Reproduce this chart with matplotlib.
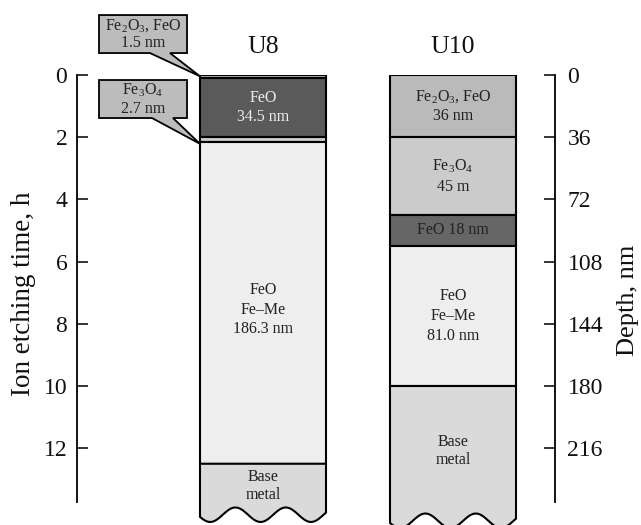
import numpy as np
import matplotlib
matplotlib.use("Agg")
import matplotlib.pyplot as plt
from matplotlib.patches import Rectangle, Polygon

plt.rcParams['font.family'] = ['Liberation Serif', 'DejaVu Serif']
plt.rcParams['mathtext.fontset'] = 'custom'
plt.rcParams['mathtext.rm'] = 'Liberation Serif'
plt.rcParams['mathtext.it'] = 'Liberation Serif:italic'

# --- data -------------------------------------------------------------
samples = ["U8", "U10"]

u8_phases = ["Fe$_2$O$_3$, FeO", "FeO", "Fe$_3$O$_4$", "FeO\nFe–Me"]
u8_thickness_nm = [1.5, 34.5, 2.7, 186.3]
u8_value_fmt = ["{:.1f} nm", "{:.1f} nm", "{:.1f} nm", "{:.1f} nm"]

u10_phases = ["Fe$_2$O$_3$, FeO", "Fe$_3$O$_4$", "FeO", "FeO\nFe–Me"]
u10_thickness_nm = [36, 45, 18, 81.0]
u10_value_fmt = ["{:.0f} nm", "{:.0f} m", "{:.0f} nm", "{:.1f} nm"]

base_label = "Base\nmetal"

etch_rate_nm_per_h = 18.0
time_ticks_h = [0, 2, 4, 6, 8, 10, 12]
depth_ticks_nm = [0, 36, 72, 108, 144, 180, 216]

# --- styling ----------------------------------------------------------
phase_colors = {
    "Fe$_2$O$_3$, FeO": "#bababa",
    "Fe$_3$O$_4$": "#cbcbcb",
    "FeO": "#5a5a5a",
    "FeO\nFe–Me": "#eeeeee",
}
u10_dark_feo = "#666666"
base_color = "#dadada"
callout_color = "#bcbcbc"
text_dark = "#222222"
text_light = "#ededed"
inner_fs = 11.5
edge_lw = 1.5

fig = plt.figure(figsize=(6.41, 5.25), dpi=100)
ax = fig.add_axes([77 / 641, 0, 478 / 641, 450 / 525])
y_bottom = 450 / (31.1 / 18)
ax.set_ylim(y_bottom, 0)
ax.set_xlim(0, 478)

col_width = 126
col_left = {"U8": 123, "U10": 313}
axis_end = 247


def draw_column(name, phases, thick, fmts, wave_c, base_text_y, inline_dark=False):
    x0 = col_left[name]
    x1 = x0 + col_width
    tops = np.concatenate([[0], np.cumsum(thick)])
    for i, (ph, t, f) in enumerate(zip(phases, thick, fmts)):
        color = phase_colors[ph]
        if ph == "FeO" and inline_dark:
            color = u10_dark_feo
        ax.add_patch(Rectangle((x0, tops[i]), col_width, t, facecolor=color,
                               edgecolor="black", linewidth=edge_lw, zorder=2))
    # base metal with a broken (wavy) bottom edge
    base_top = tops[-1]
    xs = np.linspace(x0, x1, 80)
    ys = wave_c + 4.2 * np.sin(2 * np.pi * 2.5 * (xs - x0) / col_width + 0.3)
    verts = [(x0, base_top), (x1, base_top)] + list(zip(xs[::-1], ys[::-1]))
    ax.add_patch(Polygon(verts, closed=True, facecolor=base_color,
                         edgecolor="black", linewidth=edge_lw, zorder=2))
    ax.text((x0 + x1) / 2, base_text_y, base_label, ha="center", va="center",
            fontsize=inner_fs, color=text_dark, linespacing=1.2, zorder=3)
    ax.text((x0 + x1) / 2, -16, name, ha="center", va="center", fontsize=18.5,
            color="#111111", clip_on=False)
    return tops


# U8 column
tops8 = draw_column("U8", u8_phases, u8_thickness_nm, u8_value_fmt, 254.5, 238)
xc8 = col_left["U8"] + col_width / 2
ax.text(xc8, (tops8[1] + tops8[2]) / 2,
        "FeO\n" + u8_value_fmt[1].format(u8_thickness_nm[1]),
        ha="center", va="center", fontsize=inner_fs, color=text_light,
        linespacing=1.25, zorder=3)
ax.text(xc8, (tops8[3] + tops8[4]) / 2 + 4,
        u8_phases[3] + "\n" + u8_value_fmt[3].format(u8_thickness_nm[3]),
        ha="center", va="center", fontsize=inner_fs, color=text_dark,
        linespacing=1.3, zorder=3)


# callouts for the thin U8 layers
def callout(text, box_y0, box_y1, base_x0, base_x1, tip_y):
    bx0, bx1 = 22, 110
    tip_x = col_left["U8"]
    verts = [(bx0, box_y0), (bx1, box_y0), (bx1, box_y1), (base_x1, box_y1),
             (tip_x, tip_y), (base_x0, box_y1), (bx0, box_y1)]
    ax.add_patch(Polygon(verts, closed=True, facecolor=callout_color,
                         edgecolor="black", linewidth=1.3, zorder=4,
                         clip_on=False, joinstyle="miter"))
    ax.text((bx0 + bx1) / 2, (box_y0 + box_y1) / 2, text, ha="center",
            va="center", fontsize=inner_fs, color=text_dark, linespacing=1.15,
            zorder=5, clip_on=False)


callout(u8_phases[0] + "\n" + u8_value_fmt[0].format(u8_thickness_nm[0]),
        -34.7, -12.7, 73, 93, (tops8[0] + tops8[1]) / 2)
callout(u8_phases[2] + "\n" + u8_value_fmt[2].format(u8_thickness_nm[2]),
        2.9, 24.9, 75, 96, (tops8[2] + tops8[3]) / 2 + 2.5)

# U10 column
tops10 = draw_column("U10", u10_phases, u10_thickness_nm, u10_value_fmt, 258, 217.5,
                     inline_dark=True)
xc10 = col_left["U10"] + col_width / 2
for i, (ph, t, f) in enumerate(zip(u10_phases, u10_thickness_nm, u10_value_fmt)):
    sep = " " if ph == "FeO" else "\n"
    ax.text(xc10, (tops10[i] + tops10[i + 1]) / 2, ph + sep + f.format(t),
            ha="center", va="center", fontsize=inner_fs, color=text_dark,
            linespacing=1.3, zorder=3)

# --- axes -------------------------------------------------------------
for s in ("top", "bottom"):
    ax.spines[s].set_visible(False)
ax.spines["left"].set_bounds(0, axis_end)
ax.spines["right"].set_visible(False)
ax.spines["left"].set_linewidth(1.3)
ax.set_xticks([])
ax.set_yticks([t * etch_rate_nm_per_h for t in time_ticks_h])
ax.set_yticklabels([str(t) for t in time_ticks_h])
ax.tick_params(axis="y", direction="in", length=8, width=1.2, labelsize=17,
               pad=7, colors="#111111")
ax.set_ylabel("Ion etching time, h", fontsize=19.5, color="#111111")
ax.yaxis.set_label_coords(-0.086, 0.515)

ax2 = ax.twinx()
ax2.set_ylim(ax.get_ylim())
for s in ("top", "bottom", "left"):
    ax2.spines[s].set_visible(False)
ax2.spines["right"].set_bounds(0, axis_end)
ax2.spines["right"].set_linewidth(1.3)
ax2.set_yticks(depth_ticks_nm)
ax2.set_yticklabels([str(d) for d in depth_ticks_nm])
ax2.tick_params(axis="y", direction="in", length=8, width=1.2, labelsize=17,
                pad=9, colors="#111111")

fig.text(639 / 641, 225 / 525, "Depth, nm", rotation=90, ha="right",
         va="center", fontsize=19, color="#111111")

fig.savefig("out.png", dpi=100)
